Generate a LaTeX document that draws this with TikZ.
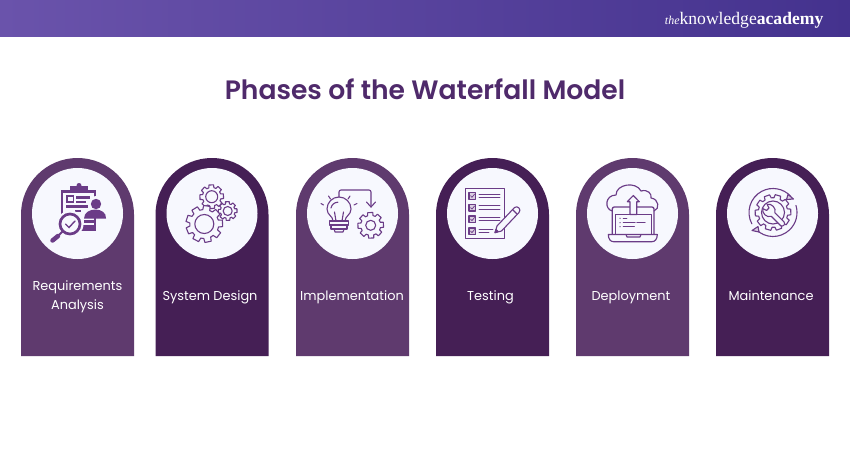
\documentclass[tikz,border=0pt]{standalone}
\usepackage{fontspec}
\setmainfont{Poppins}
\newfontfamily\titlefont{Poppins SemiBold}
\newfontfamily\logofont{Liberation Serif}
\usetikzlibrary{arrows.meta}
\definecolor{archlight}{HTML}{5F3A6E}
\definecolor{archdark}{HTML}{451F55}
\definecolor{disc}{HTML}{F7F8FE}
\definecolor{ink}{HTML}{6B3C87}
\definecolor{titlec}{HTML}{4F2A6B}
\definecolor{headl}{HTML}{6A53AB}
\definecolor{headr}{HTML}{44328E}
\newcommand{\archshape}[2]{%
  \fill[#2] (#1,356) -- (#1,214.5) arc[start angle=180,end angle=360,radius=56.5] -- ++(0,141.5) -- cycle;
  \fill[disc] ({#1+56.5},213.5) circle[radius=45.5];}
% cx cy rout rin teeth
\newcommand{\gearshape}[5]{%
  \draw[line join=round,fill=disc] ({#1+#3*cos(360/#5*(0-.30))},{#2+#3*sin(360/#5*(0-.30))})
  \foreach \k in {1,...,#5}{
    -- ({#1+#3*cos(360/#5*(\k-1+.20))},{#2+#3*sin(360/#5*(\k-1+.20))})
    -- ({#1+#4*cos(360/#5*(\k-1+.30))},{#2+#4*sin(360/#5*(\k-1+.30))})
    -- ({#1+#4*cos(360/#5*(\k-1+.60))},{#2+#4*sin(360/#5*(\k-1+.60))})
    -- ({#1+#3*cos(360/#5*(\k-1+.70))},{#2+#3*sin(360/#5*(\k-1+.70))})
  } -- cycle;}
\tikzset{
  label text/.style={text=white,font=\fontsize{12.9}{19}\selectfont,align=center,inner sep=0pt},
  icon/.style={draw=ink,line width=1.1pt,line cap=round,line join=round},
}
\begin{document}
\begin{tikzpicture}[x=1pt,y=-1pt]
\useasboundingbox (0,0) rectangle (850,450);
\fill[white] (0,0) rectangle (850,450);
\shade[left color=headl,right color=headr] (0,0) rectangle (850,36.5);
\node[anchor=base east,inner sep=0pt,text=white,font=\logofont\fontsize{17.6}{20}\selectfont] (logo) at (823.5,24.5)
  {{\itshape\fontsize{12}{20}\selectfont the}knowledge\textbf{academy}};
\node[inner sep=0pt,text=titlec,font=\titlefont\fontsize{26.6}{32}\selectfont] (title) at (425,89) {Phases of the Waterfall Model};

\archshape{21}{archlight}
\archshape{155.5}{archdark}
\archshape{296}{archlight}
\archshape{436}{archdark}
\archshape{576}{archlight}
\archshape{716}{archdark}

\node[label text] (t1) at (77.5,296.7) {Requirements\\Analysis};
\node[label text,anchor=base] (t2) at (210,300) {System Design};
\node[label text,anchor=base] (t3) at (352,300) {Implementation};
\node[label text,anchor=base] (t4) at (490.5,300) {Testing};
\node[label text,anchor=base] (t5) at (631,300) {Deployment};
\node[label text,anchor=base] (t6) at (771,300) {Maintenance};

% icon 1: requirements
\begin{scope}
\fill[ink] (60.5,190) rectangle (96,231);
\fill[disc] (63,192.5) rectangle (93.5,228.5);
\fill[ink] (70,186) rectangle (88,192);
\fill[ink] (79,185.5) circle[radius=2.5];
\fill[ink] (66,195) rectangle (74,202.5);
\fill[disc] (67.5,196.5) rectangle (72.5,201);
\fill[ink] (75.5,196) rectangle (90,198.5);
\fill[ink] (75.5,200.5) rectangle (86,203);
\fill[ink] (66,205) rectangle (88,207.5);
\fill[ink] (75,209.5) rectangle (86,212);
\fill[ink] (84,220) rectangle (93.5,223);
\fill[ink] (82,225) rectangle (93.5,228.5);
\fill[disc] (70,224) circle[radius=13.5];
\fill[disc] (96,203) circle[radius=7];
\fill[disc] (81,218) -- (81,209) -- (108,209) -- (108,218) -- cycle;
\fill[ink] (96,204) circle[radius=5.2];
\fill[ink] (84,218.5) .. controls (84,206.5) and (107,206.5) .. (106,218.5) -- cycle;
\draw[ink,line width=2.7pt] (70,224) circle[radius=10];
\draw[ink,line width=1.4pt,line cap=round] (65.5,224) -- (69,227.5) -- (75,221);
\draw[ink,line width=2pt] (62.5,231.5) -- (58,236);
\draw[ink,line width=4.5pt,line cap=round] (58,236) -- (52.5,240.5);
\end{scope}

% icon 2: gears
\begin{scope}[icon]
\gearshape{211.7}{196.7}{12}{9.3}{8}
\draw (211.7,196.7) circle[radius=6];
\gearshape{227.7}{211}{9.5}{7.3}{8}
\draw (227.7,211) circle[radius=4.5];
\gearshape{204.3}{224}{18.5}{14.5}{9}
\draw (204.3,224) circle[radius=9.5];
\end{scope}

% icon 3: idea to gear
\begin{scope}[icon]
\draw (333,221) .. controls (333,216) and (327,215) .. (327,209) arc[start angle=180,end angle=360,radius=12] .. controls (351,215) and (345,216) .. (345,221) -- cycle;
\draw (336,221) -- (334.5,212) (342,221) -- (343.5,212);
\draw (331,208) arc[start angle=190,end angle=270,radius=7];
\draw (329.5,221) rectangle (348.5,225);
\draw (331,225) rectangle (347,229);
\draw (334,229) -- (335,232) -- (343,232) -- (344,229);
\draw (339,197) -- (339,192) arc[start angle=180,end angle=270,radius=2] -- (369,190) arc[start angle=270,end angle=360,radius=2] -- (371,207);
\draw (366.5,202) -- (371,207) -- (375.5,202);
\draw (321,203.5) -- (323.5,205) (328.5,196) -- (330.5,199) (350,196) -- (348,199) (357,203.5) -- (354,205);
\gearshape{370.7}{225.3}{13}{10}{8}
\draw (370.7,225.3) circle[radius=5];
\end{scope}

% icon 4: checklist
\begin{scope}[icon]
\draw[line width=0.8pt] (465.3,188.7) rectangle (504,238.7);
\foreach \y in {192.7,204.5,216,228}{
  \draw[fill=ink!25] (469,\y) rectangle (475.7,{\y+6.5});
  \draw[line width=0.7pt] (470.5,{\y+3}) -- (472,{\y+4.6}) -- (474.5,{\y+1.5});
}
\foreach \y in {194,205.5,217}{
  \draw[line width=0.8pt] (479,\y) -- (500,\y) (479,{\y+3.5}) -- (500,{\y+3.5});
}
\draw[line width=0.8pt] (479,229) -- (493,229) (479,232.5) -- (489,232.5);
\draw[fill=disc] (495,232.7) -- (497,226) -- (514.5,207.5) .. controls (516,206) and (518,207) .. (519,208) .. controls (520,209.5) and (520.5,211) .. (519,212.5) -- (501.5,231) -- cycle;
\draw (512.5,209.5) -- (517,214);
\draw[fill=ink] (495,232.7) -- (496,229.5) -- (498,231.5) -- cycle;
\end{scope}

% icon 5: cloud and laptop
\begin{scope}[icon,line width=1.15pt]
\draw (612.3,211) .. controls (604,209) and (605,195) .. (616,195) .. controls (616,184) and (636,181) .. (641,191) .. controls (648,189) and (652,194) .. (651,198) .. controls (659,199) and (660,209) .. (654,211);
\draw[line width=1.3pt] (612.3,234) -- (612.3,209) arc[start angle=180,end angle=270,radius=2] -- (630,207) (636.7,207) -- (652,207) arc[start angle=270,end angle=360,radius=2] -- (654,234);
\draw[line width=.9pt] (615.5,234) -- (615.5,214.5) -- (651,214.5) -- (651,234);
\draw[fill=disc] (630,214.5) -- (630,201.7) -- (627.3,201.7) -- (633.3,195.5) -- (639.3,201.7) -- (636.7,201.7) -- (636.7,214.5) -- cycle;
\fill[ink] (620,218.3) circle[radius=0.7] (620,222.7) circle[radius=0.7] (620,226.7) circle[radius=0.7];
\draw (623.3,218.3) -- (626.7,218.3) (623.3,222.7) -- (635,222.7) (637,222.7) -- (645,222.7) (623.3,226.7) -- (634.3,226.7);
\draw (608.3,234.5) -- (657.3,234.5) .. controls (657.3,239) and (655,241.7) .. (652,241.7) -- (613.5,241.7) .. controls (610.5,241.7) and (608.3,239) .. (608.3,234.5) -- cycle;
\draw (626,234.5) -- (627,237) -- (640,237) -- (641,234.5);
\end{scope}

% icon 6: maintenance
\begin{scope}[icon]
\gearshape{773}{212.5}{18}{14.8}{10}
\draw (773,212.5) circle[radius=11.5];
\draw (773,212.5) ++(152:24) arc[start angle=152,end angle=318,radius=24];
\draw (773,212.5) ++(136:24) arc[start angle=136,end angle=-17,radius=24];
\draw[fill=ink!25] (793.5,199) -- (788,194.5) -- (786.5,199.5) -- cycle;
\draw[fill=ink!25] (752,230.5) -- (758,226.5) -- (759,232) -- cycle;
\begin{scope}[shift={(769.5,211)},rotate=-45]
\draw[fill=disc] (5,-2.5) .. controls (3,-7) and (-4,-7) .. (-6.5,-3) -- (-2.5,-1.8) -- (-2.5,1.8) -- (-6.5,3) .. controls (-4,7) and (3,7) .. (5,2.5) -- (18,2.5) .. controls (21,2.5) and (21,-2.5) .. (18,-2.5) -- cycle;
\end{scope}
\end{scope}
\end{tikzpicture}
\end{document}
